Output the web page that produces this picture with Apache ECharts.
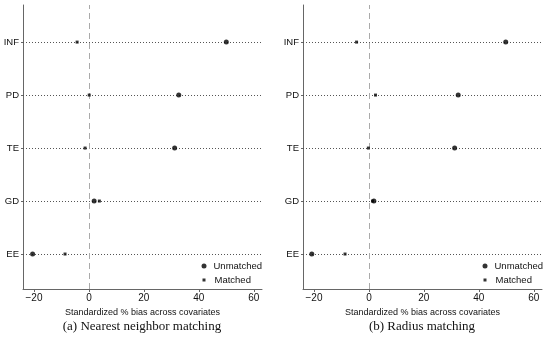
<!DOCTYPE html>
<html>
<head>
<meta charset="utf-8">
<script src="https://cdn.jsdelivr.net/npm/echarts@6/dist/echarts.min.js"></script>
<style>html,body{margin:0;padding:0;background:#fff}#c{width:550px;height:340px}</style>
</head>
<body>
<div id="c"></div>
<script>
var categories = ['EE', 'GD', 'TE', 'PD', 'INF'];
var xTicks = [-20, 0, 20, 40, 60];
// Panel (a) Nearest neighbor matching
var nnUnmatched = [-20.5, 1.9, 31.2, 32.7, 50.0];
var nnMatched = [-8.7, 3.8, -1.4, 0.1, -4.3];
// Panel (b) Radius matching
var rUnmatched = [-20.8, 1.8, 31.2, 32.5, 49.8];
var rMatched = [-8.7, 1.3, -0.2, 2.4, -4.5];
var captions = ['(a) Nearest neighbor matching', '(b) Radius matching'];
var xTitle = 'Standardized % bias across covariates';

var chart = echarts.init(document.getElementById('c'));
var sans = 'Liberation Sans, Arial, sans-serif';
var serif = 'Liberation Serif, Times New Roman, serif';
var catPos = categories.map(function (c, i) { return i + 1; });

function pts(vals) { return vals.map(function (v, i) { return [v, i + 1]; }); }

var grids = [
  {left: 23, top: 5, width: 239, height: 284},
  {left: 303, top: 5, width: 239, height: 284}
];

function xAxis(gi) {
  return {
    type: 'value', gridIndex: gi, min: -24, max: 63,
    name: xTitle, nameLocation: 'middle', nameGap: 17,
    nameTextStyle: {fontFamily: sans, fontSize: 9, color: '#111'},
    axisLine: {show: true, onZero: false, lineStyle: {color: '#666', width: 1}},
    axisTick: {show: true, length: 3, customValues: xTicks, lineStyle: {color: '#666'}},
    axisLabel: {customValues: xTicks, fontFamily: sans, fontSize: 10, color: '#111', margin: 4,
      formatter: function (v) { return String(v).replace('-', '\u2212'); }},
    splitLine: {show: false}
  };
}
function yAxis(gi) {
  return {
    type: 'value', gridIndex: gi, min: 0.34, max: 5.7,
    axisLine: {show: true, onZero: false, lineStyle: {color: '#666', width: 1}},
    axisTick: {show: true, length: 2, customValues: catPos, lineStyle: {color: '#666'}},
    axisLabel: {customValues: catPos, fontFamily: sans, fontSize: 9.5, color: '#111', margin: 4,
      formatter: function (v) { return categories[Math.round(v) - 1] || ''; }},
    splitLine: {show: false}
  };
}

function panelSeries(gi, unm, mat) {
  return [
    {
      name: 'Unmatched', type: 'scatter', xAxisIndex: gi, yAxisIndex: gi,
      symbol: 'circle', symbolSize: 5, itemStyle: {color: '#000'},
      data: pts(unm), z: 5,
      markLine: {
        silent: true, symbol: 'none', label: {show: false}, animation: false,
        data: catPos.map(function (p) {
          return {yAxis: p, lineStyle: {type: [1, 2], color: '#555', width: 1}};
        }).concat([{xAxis: 0, lineStyle: {type: [6, 4], color: '#aaa', width: 1}}])
      }
    },
    {
      name: 'Matched', type: 'scatter', xAxisIndex: gi, yAxisIndex: gi,
      symbol: 'rect', symbolSize: 3, itemStyle: {color: '#000'},
      data: pts(mat), z: 6
    }
  ];
}

function legend(left, top, name, icon, size) {
  return {
    data: [{name: name, icon: icon}],
    orient: 'vertical', left: left, top: top, itemWidth: size, itemHeight: size,
    padding: 0, selectedMode: false,
    textStyle: {fontFamily: sans, fontSize: 9.5, color: '#111', padding: [0, 0, 0, 7 - size]}
  };
}

chart.setOption({
  animation: false,
  backgroundColor: '#fff',
  grid: grids,
  xAxis: [xAxis(0), xAxis(1)],
  yAxis: [yAxis(0), yAxis(1)],
  legend: [
    legend(201.5, 261, 'Unmatched', 'circle', 5),
    legend(202.5, 275, 'Matched', 'rect', 3),
    legend(482.5, 261, 'Unmatched', 'circle', 5),
    legend(483.5, 275, 'Matched', 'rect', 3)
  ],
  title: [
    {text: captions[0], left: 142, top: 320, textAlign: 'center', padding: 0,
     textStyle: {fontFamily: serif, fontSize: 13, fontWeight: 'normal', color: '#111'}},
    {text: captions[1], left: 422, top: 320, textAlign: 'center', padding: 0,
     textStyle: {fontFamily: serif, fontSize: 13, fontWeight: 'normal', color: '#111'}}
  ],
  series: panelSeries(0, nnUnmatched, nnMatched).concat(panelSeries(1, rUnmatched, rMatched))
});
</script>
</body>
</html>
